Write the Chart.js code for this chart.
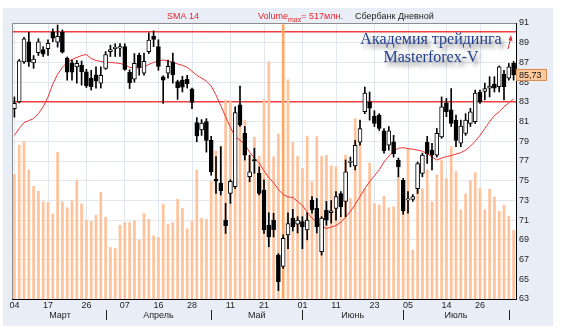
<!DOCTYPE html>
<html>
<head>
<meta charset="utf-8">
<script src="https://cdn.jsdelivr.net/npm/chart.js@4"></script>
<style>
  html, body { margin: 0; padding: 0; background: #fff; }
  #wrap { width: 564px; height: 334px; }
</style>
</head>
<body>
<div id="wrap"><canvas id="chart" width="564" height="334"></canvas></div>
<script>
// Сбербанк, дневные свечи (04.03 - 03.08)
const open = [82.3, 83.0, 87.05, 89.1, 86.95, 88.0, 88.3, 88.4, 90.05, 89.05,
  90.05, 87.45, 86.95, 86.55, 86.7, 86.05, 85.4, 85.75, 84.9, 86.4,
  88.1, 88.4, 88.45, 88.6, 86.0, 85.3, 87.75, 85.9, 88.1, 89.68,
  88.6, 85.55, 85.9, 87.05, 85.05, 85.2, 85.3, 84.3, 80.9, 80.15,
  81.0, 79.1, 75.15, 74.75, 71.0, 73.7, 74.4, 82.7, 79.8, 75.4,
  77.15, 75.75, 74.05, 70.5, 71.0, 67.45, 66.3, 69.5, 71.2, 70.6,
  70.85, 70.0, 73.0, 72.2, 67.8, 72.0, 71.75, 72.2, 73.7, 72.9,
  76.85, 76.5, 78.9, 82.0, 83.0, 81.55, 81.65, 80.05, 78.6, 78.95,
  77.1, 75.05, 73.05, 73.1, 74.2, 75.75, 78.9, 78.1, 77.6, 79.45,
  82.9, 82.2, 81.15, 78.8, 79.8, 80.8, 81.0, 84.0, 84.05, 84.4,
  84.8, 84.55, 85.8, 85.4, 86.9];
const high = [83.5, 87.3, 89.55, 90.05, 87.7, 89.4, 88.6, 89.3, 90.4, 90.8,
  90.3, 87.55, 87.25, 87.2, 87.15, 86.3, 86.2, 86.55, 86.55, 88.1,
  88.75, 88.9, 88.9, 88.9, 86.25, 87.9, 87.95, 87.95, 90.0, 90.2,
  89.3, 85.65, 87.25, 87.95, 85.2, 85.6, 85.7, 84.4, 81.4, 81.2,
  81.3, 79.5, 77.45, 78.45, 72.7, 75.1, 82.5, 84.6, 80.5, 77.6,
  78.3, 76.4, 75.1, 71.75, 71.7, 67.6, 69.5, 71.75, 72.1, 71.35,
  71.35, 71.75, 73.4, 73.2, 71.35, 72.9, 73.0, 73.9, 73.9, 77.1,
  77.4, 79.1, 81.15, 84.5, 84.0, 82.1, 81.8, 80.3, 80.5, 79.6,
  77.3, 75.25, 73.9, 73.6, 76.9, 77.8, 79.5, 78.8, 80.3, 83.5,
  83.35, 84.35, 81.65, 81.15, 81.8, 82.35, 84.2, 84.2, 84.9, 85.55,
  85.55, 86.65, 86.2, 86.9, 87.1];
const low = [81.45, 82.9, 86.9, 86.6, 86.4, 87.7, 87.6, 87.7, 89.1, 88.55,
  87.95, 85.2, 85.2, 84.9, 84.7, 84.45, 84.2, 84.4, 84.4, 86.3,
  87.6, 87.6, 87.6, 86.2, 84.35, 85.0, 85.7, 85.7, 87.9, 88.6,
  86.2, 82.85, 85.4, 84.9, 83.25, 84.0, 84.4, 82.3, 78.95, 79.6,
  77.9, 75.55, 73.7, 73.55, 69.65, 72.7, 74.2, 80.5, 77.1, 74.9,
  75.75, 73.55, 69.65, 68.3, 69.3, 63.85, 66.1, 68.1, 69.9, 69.7,
  68.1, 69.0, 71.7, 69.7, 67.45, 70.5, 70.7, 71.0, 71.35, 71.35,
  76.4, 76.1, 78.6, 81.8, 81.15, 80.5, 80.1, 77.8, 78.1, 77.4,
  75.4, 71.6, 71.7, 72.9, 73.7, 75.4, 76.75, 76.1, 77.4, 79.3,
  81.5, 80.5, 78.45, 78.45, 79.6, 80.5, 80.8, 82.85, 83.2, 83.5,
  84.0, 84.0, 83.2, 85.2, 85.2];
const close = [82.85, 87.15, 89.4, 87.05, 87.35, 89.1, 87.83, 88.95, 89.45, 89.65,
  88.05, 86.0, 86.0, 86.9, 86.05, 84.65, 84.55, 85.1, 85.7, 87.8,
  88.3, 88.55, 88.6, 86.3, 84.95, 86.9, 86.5, 87.1, 89.27, 89.34,
  86.6, 85.2, 86.6, 85.75, 84.45, 84.5, 84.85, 82.95, 79.55, 80.85,
  79.1, 75.9, 74.95, 74.0, 70.45, 74.95, 81.9, 80.65, 77.6, 75.9,
  77.0, 73.7, 70.0, 69.3, 70.0, 64.75, 69.15, 70.65, 70.35, 71.0,
  70.35, 71.0, 72.05, 70.35, 71.2, 71.0, 71.95, 73.4, 72.35, 75.9,
  77.0, 78.6, 80.3, 83.9, 82.35, 80.8, 80.3, 78.05, 80.05, 77.75,
  76.4, 71.95, 73.15, 73.4, 76.75, 77.6, 77.75, 77.6, 79.8, 82.5,
  82.0, 80.8, 79.1, 80.55, 81.15, 82.0, 83.9, 83.0, 84.35, 84.6,
  84.4, 86.55, 84.55, 86.55, 85.73];

// SMA 14
const sma14 = [79.6, 80.3, 80.9, 81.1, 81.3, 81.8, 82.5, 83.5, 84.8, 85.8,
  86.5, 87.0, 87.3, 87.5, 87.7, 87.8, 87.4, 87.2, 87.1, 87.0,
  87.0, 86.95, 86.9, 86.75, 86.5, 86.45, 86.45, 86.55, 86.8, 87.0,
  87.15, 87.25, 87.15, 87.0, 86.85, 86.7, 86.5, 86.1, 85.7, 85.4,
  85.1, 84.6, 83.7, 82.6, 81.5, 80.4, 79.5, 79.1, 78.7, 77.9,
  77.3, 76.8, 76.0, 75.3, 74.8, 74.1, 73.6, 73.35, 73.3, 72.9,
  72.5, 71.8, 71.2, 70.8, 70.4, 70.15, 70.3, 70.45, 70.8, 71.3,
  71.9, 72.6, 73.4, 74.2, 74.9, 75.5, 76.1, 76.9, 77.5, 78.0,
  78.3, 78.35, 78.25, 78.2, 78.1, 78.0, 77.75, 77.4, 77.1, 77.3,
  77.45, 77.55, 77.7, 77.85, 78.1, 78.5, 79.0, 79.6, 80.3, 81.0,
  81.6, 82.0, 82.5, 82.9, 83.3];

// объём, млн.
const volume = [235, 290, 296, 243, 212, 203, 183, 182, 160, 276,
  183, 172, 185, 224, 179, 149, 146, 158, 201, 154,
  97, 95, 139, 144, 144, 148, 111, 161, 150, 119,
  116, 178, 141, 144, 188, 171, 132, 147, 243, 152,
  150, 222, 279, 288, 375, 372, 323, 359, 337, 269,
  305, 269, 376, 447, 268, 311, 517, 413, 295, 269,
  246, 307, 221, 306, 269, 271, 251, 249, 158, 271,
  190, 340, 322, 208, 256, 180, 177, 194, 172, 174,
  230, 200, 282, 92, 240, 208, 243, 183, 234, 262,
  227, 287, 240, 168, 198, 223, 238, 208, 168, 207,
  192, 165, 177, 156, 129];

const levels = [90.1, 83.0];

const tickIdx = [0, 7, 15, 23, 30, 37, 45, 52, 60, 67, 75, 82, 90, 97];
const tickText = ['04', '17', '26', '07', '16', '28', '11', '21', '01', '11', '23', '05', '14', '26'];

const monthNames = ['Март', 'Апрель', 'Май', 'Июнь', 'Июль'];
const monthStarts = [0, 19, 41, 60, 81, 103];

const labels = close.map((_, i) => i);
const volMax = Math.max(...volume);
const gridColor = '#e1e6ef';
const font = '"Liberation Sans", Arial, sans-serif';

const decor = {
  id: 'decor',
  beforeDraw(chart) {
    const c = chart.ctx, a = chart.chartArea;
    c.save();
    c.fillStyle = '#fff';
    c.fillRect(0, 0, chart.width, chart.height);
    c.fillStyle = '#e9eef6';
    c.fillRect(3, 8, 550, 318);
    c.fillStyle = '#fff';
    c.fillRect(a.left, a.top, a.right - a.left, a.bottom - a.top);
    c.restore();
  },
  beforeDatasetsDraw(chart) {
    const c = chart.ctx, a = chart.chartArea, y = chart.scales.y;
    c.save();
    c.strokeStyle = '#ee4040';
    c.lineWidth = 1.5;
    levels.forEach(v => {
      const py = y.getPixelForValue(v);
      c.beginPath();
      c.moveTo(a.left, py);
      c.lineTo(a.right, py);
      c.stroke();
    });
    c.restore();
  },
  afterDraw(chart) {
    const c = chart.ctx, a = chart.chartArea, x = chart.scales.x, y = chart.scales.y;
    c.save();
    // рамка слева и сверху
    c.strokeStyle = '#8c8c8c';
    c.lineWidth = 1;
    c.beginPath();
    c.moveTo(a.left + 0.5, a.bottom);
    c.lineTo(a.left + 0.5, a.top + 0.5);
    c.lineTo(a.right, a.top + 0.5);
    c.stroke();

    // заголовок
    c.textBaseline = 'alphabetic';
    c.font = '9px ' + font;
    c.fillStyle = '#e8262b';
    c.fillText('SMA 14', 167, 19);
    let tx = 258;
    c.fillText('Volume', tx, 19);
    tx += c.measureText('Volume').width;
    c.font = '7px ' + font;
    c.fillText('max', tx, 22);
    tx += c.measureText('max').width;
    c.font = '9px ' + font;
    c.fillText('= ' + volMax + 'млн.', tx, 19);
    c.fillStyle = '#222';
    c.fillText('Сбербанк Дневной', 355, 19);

    // месяцы
    c.fillStyle = '#222';
    c.textAlign = 'center';
    c.textBaseline = 'middle';
    monthNames.forEach((m, k) => {
      const x0 = x.getPixelForValue(monthStarts[k]);
      const x1 = x.getPixelForValue(monthStarts[k + 1]);
      c.fillText(m, (x0 + x1) / 2, 316);
    });
    c.strokeStyle = '#222';
    monthStarts.slice(1).forEach(i => {
      const px = Math.round(x.getPixelForValue(i)) + 0.5;
      c.beginPath();
      c.moveTo(px, 310);
      c.lineTo(px, 320);
      c.stroke();
    });

    // последняя цена
    const last = close[close.length - 1];
    const py = y.getPixelForValue(last);
    c.fillStyle = '#fcca9c';
    c.strokeStyle = '#d98a48';
    c.fillRect(a.right, py - 6, 31, 12);
    c.strokeRect(a.right + 0.5, py - 5.5, 30, 11);
    c.fillStyle = '#111';
    c.textAlign = 'left';
    c.fillText(last.toFixed(2).replace('.', ','), a.right + 3, py + 0.5);

    // стрелка
    c.strokeStyle = '#e8262b';
    c.fillStyle = '#e8262b';
    c.beginPath();
    c.moveTo(a.right - 8, a.top + 26);
    c.lineTo(a.right - 5.5, a.top + 16);
    c.stroke();
    c.beginPath();
    c.moveTo(a.right - 5, a.top + 12);
    c.lineTo(a.right - 3.5, a.top + 18);
    c.lineTo(a.right - 7.5, a.top + 17);
    c.closePath();
    c.fill();

    // надпись
    c.textAlign = 'center';
    c.textBaseline = 'middle';
    c.font = '16px "Liberation Serif", "Times New Roman", serif';
    c.shadowColor = 'rgba(40,40,40,0.6)';
    c.shadowBlur = 4;
    c.shadowOffsetX = 3;
    c.shadowOffsetY = 4;
    c.fillStyle = '#22408f';
    c.fillText('Академия трейдинга', 431, 40);
    c.fillText('Masterforex-V', 431, 58);
    c.restore();
  }
};

new Chart(document.getElementById('chart'), {
  type: 'bar',
  data: {
    labels: labels,
    datasets: [
      {
        type: 'bar',
        label: 'Volume',
        data: volume,
        yAxisID: 'yVol',
        backgroundColor: volume.map(v => v === volMax ? '#ffa764' : '#ffc29a'),
        barThickness: 2,
        grouped: false,
        order: 5
      },
      {
        type: 'line',
        label: 'SMA 14',
        data: sma14,
        yAxisID: 'y',
        borderColor: '#f03232',
        borderWidth: 1,
        pointRadius: 0,
        tension: 0,
        order: 3
      },
      {
        type: 'bar',
        label: 'wick',
        data: low.map((l, i) => [l, high[i]]),
        yAxisID: 'y',
        backgroundColor: '#000',
        barThickness: 1,
        grouped: false,
        order: 2
      },
      {
        type: 'bar',
        label: 'body',
        data: open.map((o, i) => [Math.min(o, close[i]), Math.max(o, close[i])]),
        yAxisID: 'y',
        backgroundColor: open.map((o, i) => close[i] >= o ? '#fff' : '#000'),
        borderColor: '#000',
        borderWidth: 1,
        borderSkipped: false,
        barThickness: 4,
        grouped: false,
        order: 1
      }
    ]
  },
  options: {
    responsive: false,
    animation: false,
    layout: { padding: { left: 12, top: 23, right: 0, bottom: 0 } },
    plugins: { legend: { display: false }, tooltip: { enabled: false } },
    scales: {
      x: {
        offset: true,
        grid: {
          offset: false,
          drawTicks: false,
          color: ctx => tickIdx.includes(ctx.index) ? gridColor : 'rgba(0,0,0,0)'
        },
        border: { color: '#000' },
        ticks: {
          autoSkip: false,
          maxRotation: 0,
          padding: 1,
          color: '#222',
          font: { family: font, size: 9 },
          callback: (v, i) => {
            const k = tickIdx.indexOf(i);
            return k >= 0 ? tickText[k] : '';
          }
        },
        afterFit: s => { s.height = 35; }
      },
      y: {
        position: 'right',
        min: 63,
        max: 91,
        grid: { color: gridColor, drawTicks: false },
        border: { color: '#000' },
        ticks: {
          stepSize: 2,
          padding: 3,
          color: '#222',
          font: { family: font, size: 9 }
        },
        afterFit: s => { s.width = 48; }
      },
      yVol: { display: false, min: 0, max: 520 }
    }
  },
  plugins: [decor]
});
</script>
</body>
</html>
